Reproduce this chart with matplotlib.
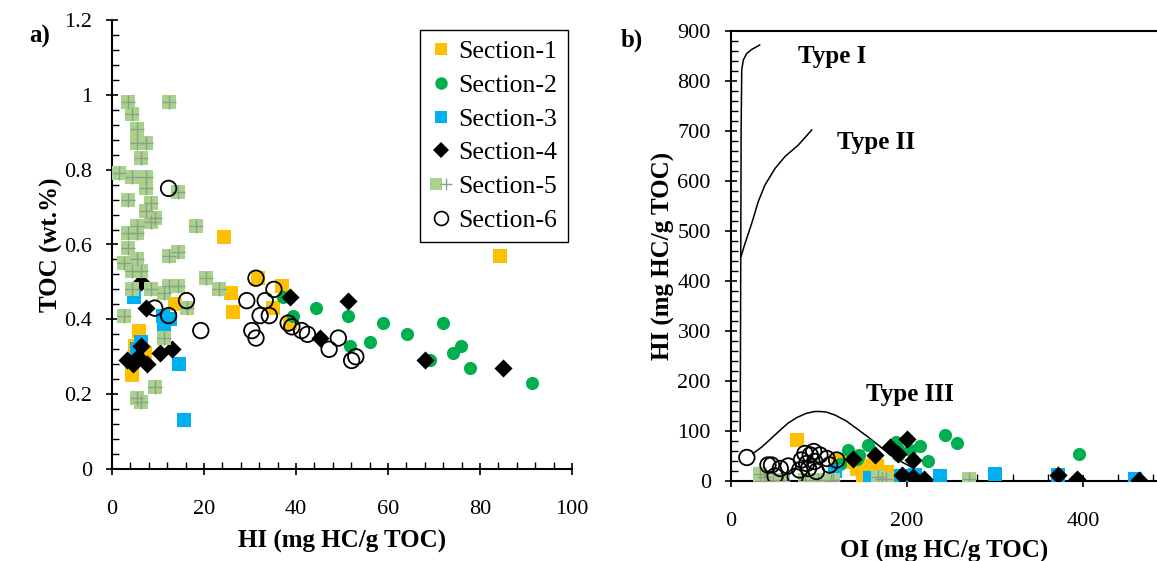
import matplotlib
matplotlib.use("Agg")
import matplotlib.pyplot as plt
from matplotlib.ticker import MultipleLocator, FuncFormatter
from matplotlib.lines import Line2D
from matplotlib.legend_handler import HandlerTuple

plt.rcParams['font.family'] = ['Liberation Serif', 'DejaVu Serif']

# ---------------- Data: panel a (HI vs TOC) ----------------
s1_hi = [24.3, 25.8, 26.4, 13.8, 5.9, 7.2, 4.3, 31.8, 36.9, 35.1, 38.7, 84.3, 6.5, 5.0, 12.5]
s1_toc = [0.62, 0.47, 0.42, 0.44, 0.37, 0.31, 0.25, 0.51, 0.49, 0.43, 0.39, 0.57, 0.30, 0.33, 0.40]

s2_hi = [37.1, 39.4, 44.3, 51.4, 51.7, 56.1, 59.0, 64.1, 71.9, 75.8, 74.2, 69.1, 77.8, 91.2]
s2_toc = [0.46, 0.41, 0.43, 0.41, 0.33, 0.34, 0.39, 0.36, 0.39, 0.33, 0.31, 0.29, 0.27, 0.23]

s3_hi = [4.8, 11.3, 12.6, 6.3, 14.6, 15.7, 5.5, 11.0]
s3_toc = [0.46, 0.38, 0.40, 0.34, 0.28, 0.13, 0.32, 0.41]

s4_hi = [6.3, 7.3, 6.3, 3.3, 4.6, 7.6, 10.4, 13.0, 5.7, 38.7, 51.2, 45.2, 68.0, 85.1]
s4_toc = [0.50, 0.43, 0.33, 0.29, 0.28, 0.28, 0.31, 0.32, 0.30, 0.46, 0.45, 0.35, 0.29, 0.27]

s5_hi = [3.4, 12.3, 4.3, 5.4, 5.4, 7.3, 6.3, 1.5, 4.3, 7.3, 7.3, 14.3, 3.4, 8.4, 7.3,
         9.3, 8.4, 5.4, 18.2, 3.4, 5.4, 3.4, 12.3, 14.3, 2.5, 5.4, 4.3, 6.3, 20.4,
         23.2, 4.3, 8.4, 12.3, 14.3, 11.3, 2.5, 16.3, 11.3, 9.3, 5.4, 6.3]
s5_toc = [0.98, 0.98, 0.95, 0.91, 0.87, 0.87, 0.83, 0.79, 0.78, 0.78, 0.75, 0.74, 0.72, 0.71, 0.69,
          0.67, 0.66, 0.65, 0.65, 0.63, 0.63, 0.59, 0.57, 0.58, 0.55, 0.56, 0.53, 0.53, 0.51,
          0.48, 0.48, 0.48, 0.49, 0.49, 0.47, 0.41, 0.43, 0.35, 0.22, 0.19, 0.18]

s6_hi = [12.3, 9.3, 12.3, 16.2, 19.3, 31.3, 29.3, 33.3, 35.2, 32.2, 34.2, 30.4, 31.3,
         38.3, 39.1, 41.2, 42.5, 47.2, 49.2, 52.1, 53.0]
s6_toc = [0.75, 0.43, 0.41, 0.45, 0.37, 0.51, 0.45, 0.45, 0.48, 0.41, 0.41, 0.37, 0.35,
          0.39, 0.38, 0.37, 0.36, 0.32, 0.35, 0.29, 0.30]

# ---------------- Data: panel b (OI vs HI) ----------------
b1_oi = [75, 122, 130, 143, 147, 150, 163, 166, 177, 180, 157, 171]
b1_hi = [83, 42, 38, 25, 30, 5, 38, 30, 18, 3, 12, 10]

b2_oi = [124, 133, 143, 145, 156, 188, 190, 190, 203, 215, 224, 243, 257, 395]
b2_hi = [35, 62, 45, 52, 72, 79, 65, 52, 62, 70, 40, 92, 76, 55]

b3_oi = [118, 158, 193, 209, 238, 300, 372, 459]
b3_hi = [20, 6, 10, 12, 10, 15, 12, 5]

b4_oi = [139, 164, 181, 200, 190, 207, 194, 207, 219, 372, 393, 463]
b4_hi = [45, 52, 69, 84, 55, 42, 12, 9, 5, 12, 5, 2]

b5_oi = [33, 33, 42, 59, 84, 99, 114, 37, 48, 116, 171, 167, 176, 270]
b5_hi = [15, 0, 0, 2, 2, 2, 0, 9, 2, 2, 5, 9, 5, 5]

b6_oi = [18, 42, 46, 56, 65, 80, 90, 95, 101, 109, 112, 120, 78, 88, 97, 50, 73, 86, 84, 94]
b6_hi = [47, 32, 32, 25, 30, 42, 52, 39, 52, 45, 32, 42, 22, 25, 19, 10, 9, 35, 55, 59]

# kerogen type reference curves
type1_oi = [10.5, 11.0, 11.5, 12.2, 14.0, 17.8, 23.5, 32.6]
type1_hi = [100, 400, 700, 822, 842, 855, 863, 872]
type2_oi = [11.4, 15.9, 23.5, 31.0, 38.6, 50.0, 61.4, 76.5, 91.7]
type2_hi = [449, 475, 515, 559, 592, 625, 649, 672, 702]
type3_oi = [25, 35, 45, 56, 65, 75, 85, 95, 101, 108, 118, 131, 145, 158, 170, 179, 192, 205]
type3_hi = [55, 68, 84, 102, 116, 127, 135, 139, 139, 138, 132, 120, 102, 85, 68, 55, 40, 28]

# ---------------- Styles ----------------
C1, C2, C3, C4 = '#FFC000', '#00B050', '#00B0F0', '#000000'
C5, C5X = '#A9D18E', '#8E9E84'

S_SQ, S_CI, S_DI, S_OC = 100, 90, 85, 125

fig = plt.figure(figsize=(11.57, 5.61), dpi=100)
axa = fig.add_axes([112/1157, 1-469/561, 460/1157, 449/561])
axb = fig.add_axes([731/1157, 1-481/561, 426/1157, 450/561])


def draw(ax, d1, d2, d3, d4, d5, d6):
    ax.scatter(*d1, marker='s', s=S_SQ, color=C1, linewidths=0, zorder=3)
    ax.scatter(*d2, marker='o', s=S_CI, color=C2, linewidths=0, zorder=4)
    ax.scatter(*d3, marker='s', s=S_SQ, color=C3, linewidths=0, zorder=5)
    ax.scatter(*d4, marker='D', s=S_DI, color=C4, linewidths=0, zorder=6)
    ax.scatter(*d5, marker='s', s=S_SQ, color=C5, linewidths=0, zorder=7)
    ax.scatter(*d5, marker='+', s=S_SQ, color=C5X, linewidths=1.0, zorder=7.1)
    ax.scatter(*d6, marker='o', s=S_OC, facecolors='none', edgecolors='black',
               linewidths=1.3, zorder=8)


draw(axa, (s1_hi, s1_toc), (s2_hi, s2_toc), (s3_hi, s3_toc), (s4_hi, s4_toc),
     (s5_hi, s5_toc), (s6_hi, s6_toc))
draw(axb, (b1_oi, b1_hi), (b2_oi, b2_hi), (b3_oi, b3_hi), (b4_oi, b4_hi),
     (b5_oi, b5_hi), (b6_oi, b6_hi))

for xs, ys in [(type1_oi, type1_hi), (type2_oi, type2_hi), (type3_oi, type3_hi)]:
    axb.plot(xs, ys, color='black', lw=1.1, zorder=2)

TICKFS = 16
LABFS = 18


def style_axis(ax):
    for sp in ax.spines.values():
        sp.set_linewidth(1.5)
    ax.spines['right'].set_visible(False)
    ax.tick_params(which='major', direction='inout', length=9, width=1.2,
                   labelsize=TICKFS, pad=10)
    ax.tick_params(axis='x', which='major', pad=18)
    ax.tick_params(which='minor', direction='in', length=5, width=1.0)
    ax.tick_params(top=False, right=False, which='both')


# panel a
axa.set_xlim(0, 100)
axa.set_ylim(0, 1.2)
axa.spines['top'].set_visible(False)
style_axis(axa)
axa.xaxis.set_major_locator(MultipleLocator(20))
axa.xaxis.set_minor_locator(MultipleLocator(4))
axa.yaxis.set_major_locator(MultipleLocator(0.2))
axa.yaxis.set_minor_locator(MultipleLocator(0.04))
axa.yaxis.set_major_formatter(FuncFormatter(lambda v, p: f'{v:g}'))
axa.set_xlabel('HI (mg HC/g TOC)', fontsize=LABFS, fontweight='bold', labelpad=8)
axa.set_ylabel('TOC (wt.%)', fontsize=LABFS, fontweight='bold', labelpad=1)

# panel b
axb.set_xlim(0, 484)
axb.set_ylim(0, 900)
style_axis(axb)
axb.xaxis.set_major_locator(MultipleLocator(200))
axb.xaxis.set_minor_locator(MultipleLocator(40))
axb.yaxis.set_major_locator(MultipleLocator(100))
axb.yaxis.set_minor_locator(MultipleLocator(20))
axb.set_xlabel('OI (mg HC/g TOC)', fontsize=LABFS, fontweight='bold', labelpad=6)
axb.set_ylabel('HI (mg HC/g TOC)', fontsize=LABFS, fontweight='bold', labelpad=2)

axb.text(115, 848, 'Type I', fontsize=LABFS, fontweight='bold', ha='center', va='center')
axb.text(165, 678, 'Type II', fontsize=LABFS, fontweight='bold', ha='center', va='center')
axb.text(203, 172, 'Type III', fontsize=LABFS, fontweight='bold', ha='center', va='center')

fig.text(40/1157, 1-36/561, 'a)', fontsize=LABFS, fontweight='bold', ha='center', va='center')
fig.text(632/1157, 1-40/561, 'b)', fontsize=LABFS, fontweight='bold', ha='center', va='center')

# legend
h1 = Line2D([], [], ls='none', marker='s', ms=9, color=C1, mew=0)
h2 = Line2D([], [], ls='none', marker='o', ms=9, color=C2, mew=0)
h3 = Line2D([], [], ls='none', marker='s', ms=9, color=C3, mew=0)
h4 = Line2D([], [], ls='none', marker='D', ms=8, color=C4, mew=0)
h5a = Line2D([], [], ls='none', marker='s', ms=9, color=C5, mew=0)
h5b = Line2D([], [], ls='none', marker='+', ms=9, color=C5X, mew=1.0)
h6 = Line2D([], [], ls='none', marker='o', ms=10, mfc='none', mec='black', mew=1.2)
leg = axa.legend([h1, h2, h3, h4, (h5a, h5b), h6],
                 ['Section-1', 'Section-2', 'Section-3', 'Section-4', 'Section-5', 'Section-6'],
                 handler_map={tuple: HandlerTuple(ndivide=None, pad=0)},
                 loc='upper right', bbox_to_anchor=(0.991, 0.978), borderaxespad=0,
                 fontsize=18.5, frameon=True, fancybox=False, framealpha=1,
                 edgecolor='black', handlelength=0.8, handletextpad=0.3,
                 labelspacing=0.42, borderpad=0.4)
leg.get_frame().set_linewidth(1.0)
leg.set_zorder(20)

fig.savefig('out.png', dpi=100)
